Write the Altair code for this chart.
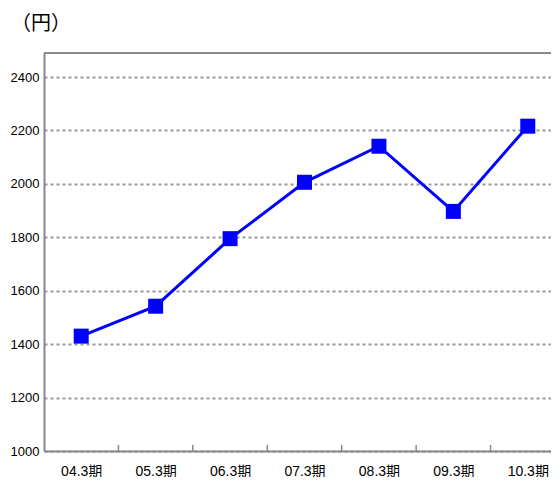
import altair as alt
import pandas as pd

periods = ["04.3期", "05.3期", "06.3期", "07.3期", "08.3期", "09.3期", "10.3期"]
values = [1430, 1542, 1795, 2006, 2141, 1897, 2216]
y_ticks = [1000, 1200, 1400, 1600, 1800, 2000, 2200, 2400]
unit_label = ["（円）"]

W, H = 507, 398          # visible plot area
XR = 521                 # x range of the category axis (extends past the window)
FONT = "Liberation Sans, Noto Sans CJK JP, sans-serif"

df = pd.DataFrame({"period": periods, "value": values})
bounds = pd.DataFrame({"b": list(range(1, len(periods)))})
unit_df = pd.DataFrame({"t": unit_label})

x_enc = alt.X(
    "period:N", sort=periods, title=None,
    scale=alt.Scale(type="point", padding=0.5, range=[0, XR]),
    axis=alt.Axis(labelAngle=0, ticks=False, tickSize=0, labelPadding=13,
                  domainColor="#888888", domainWidth=2, labelFont=FONT,
                  labelFontSize=14, labelColor="#000000", grid=False),
)
y_enc = alt.Y(
    "value:Q", title=None,
    scale=alt.Scale(domain=[1000, 2490], nice=False, zero=False),
    axis=alt.Axis(values=y_ticks, format="d", ticks=False, tickSize=0, labelPadding=5,
                  domainColor="#888888", domainWidth=2, labelFont=FONT,
                  labelFontSize=13, labelColor="#000000",
                  grid=True, gridColor="#999999", gridDash=[3, 3], gridWidth=2),
)

line = alt.Chart(df).mark_line(
    color="#0000FF", strokeWidth=3,
    point=alt.OverlayMarkDef(shape="square", filled=True, color="#0000FF", size=225, opacity=1),
).encode(x=x_enc, y=y_enc)

ticks = alt.Chart(bounds).mark_rule(color="#888888", strokeWidth=1.5).encode(
    x=alt.X("b:Q", scale=alt.Scale(domain=[0, len(periods)], nice=False, zero=False, range=[0, XR]), axis=None),
    y=alt.value(H), y2=alt.value(H - 6))

top_border = alt.Chart(unit_df).mark_rule(color="#888888", strokeWidth=2).encode(
    x=alt.value(0), x2=alt.value(W), y=alt.value(0))

unit = alt.Chart(unit_df).mark_text(font="Noto Sans CJK JP", fontSize=20, align="left", baseline="middle", color="#000000").encode(
    text="t:N", x=alt.value(-33), y=alt.value(-29))

chart = alt.layer(line, ticks, top_border, unit).resolve_scale(x="independent").properties(
    width=W, height=H,
    autosize=alt.AutoSizeParams(type="none"),
    padding={"left": 36, "top": 45, "right": 0, "bottom": 26},
).configure_view(stroke=None).configure(background="white")

chart.save("out.html", embed_options={"renderer": "svg", "actions": False})
